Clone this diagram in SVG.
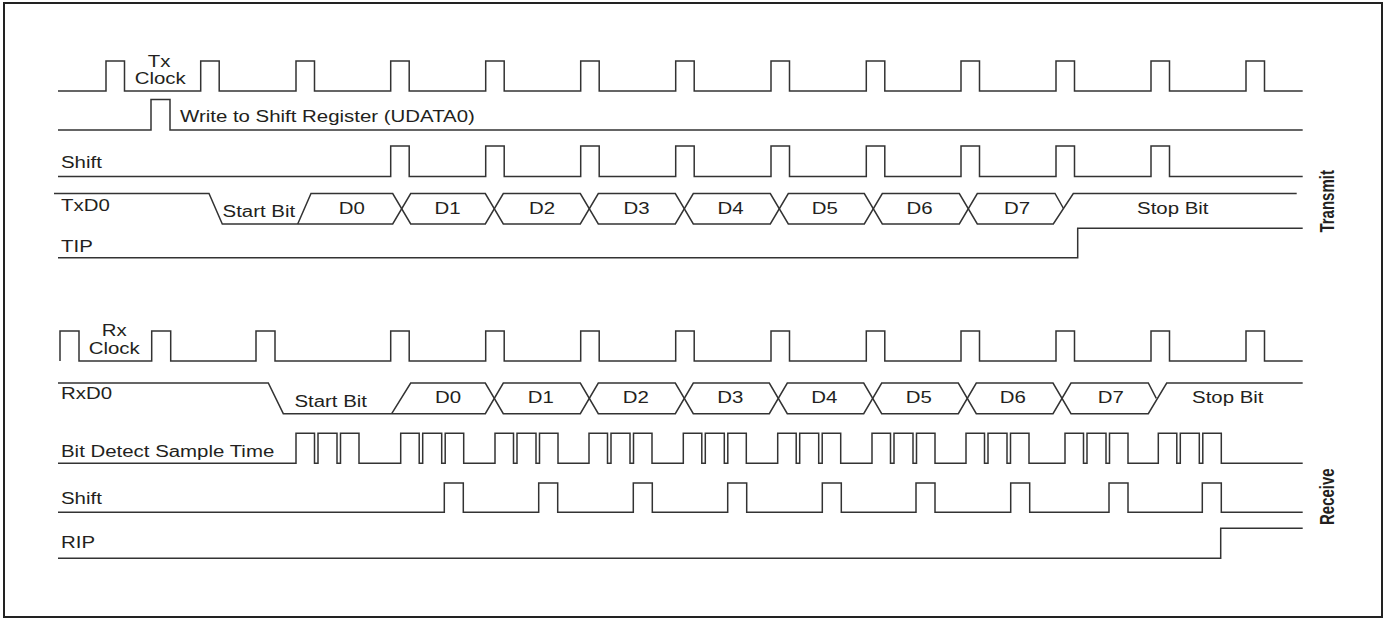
<svg xmlns="http://www.w3.org/2000/svg" width="1384" height="618" viewBox="0 0 1384 618">
<style>
.w{fill:none;stroke:#333;stroke-width:1.5;stroke-linejoin:miter}
.t{font-family:"Liberation Sans",Arial,sans-serif;font-size:15.6px;fill:#231f20}
.m{text-anchor:middle}
.b{font-family:"Liberation Sans",Arial,sans-serif;font-size:15px;font-weight:bold;fill:#231f20;text-anchor:middle}
</style>
<rect x="4" y="3" width="1378" height="614" fill="#fff" stroke="#222" stroke-width="2"/>
<g id="connectors">
<g id="tx-clock">
<path class="w" d="M58 91 H106 V61 H124.5 V91 H200.7 V61 H219.2 V91 H296 V61 H314.5 V91 H390.7 V61 H409.2 V91 H485.7 V61 H504.2 V91 H580.7 V61 H599.2 V91 H675.7 V61 H694.2 V91 H771 V61 H789.5 V91 H866.3 V61 H884.8 V91 H961 V61 H979.5 V91 H1056 V61 H1074.5 V91 H1151 V61 H1169.5 V91 H1246 V61 H1264.5 V91 H1302.7"/>
</g>
<g id="write">
<path class="w" d="M58 130 H151 V99.5 H170 V130 H1302.7"/>
</g>
<g id="tx-shift">
<path class="w" d="M58 176.5 H390.7 V146 H409.2 V176.5 H485.7 V146 H504.2 V176.5 H580.7 V146 H599.2 V176.5 H675.7 V146 H694.2 V176.5 H771 V146 H789.5 V176.5 H866.3 V146 H884.8 V176.5 H961 V146 H979.5 V176.5 H1056 V146 H1074.5 V176.5 H1151 V146 H1169.5 V176.5 H1302.7"/>
</g>
<g id="txd0">
<path class="w" d="M54 193.5 H209 L222.3 224 H392.7 L410.7 193.5 H485.3 L503.3 224 H580.3 L598.3 193.5 H675.3 L693.3 224 H770.3 L788.3 193.5 H864.3 L882.3 224 H959.3 L977.3 193.5 H1055 L1063.5 208.5"/>
<path class="w" d="M297.7 224 L311 193.5 H392.7 L410.7 224 H485.3 L503.3 193.5 H580.3 L598.3 224 H675.3 L693.3 193.5 H770.3 L788.3 224 H864.3 L882.3 193.5 H959.3 L977.3 224 H1053.3 L1073.3 193.5 H1296.7"/>
</g>
<g id="tip">
<path class="w" d="M58 257.7 H1077.7 V228.3 H1302.7"/>
</g>
<g id="rx-clock">
<path class="w" d="M60 361 V331 H79 V361 H151.7 V331 H170.7 V361 H256 V331 H275 V361 H390.7 V331 H409.2 V361 H485.7 V331 H504.2 V361 H580.7 V331 H599.2 V361 H675.7 V331 H694.2 V361 H771 V331 H789.5 V361 H866.3 V331 H884.8 V361 H961 V331 H979.5 V361 H1056 V331 H1074.5 V361 H1151 V331 H1169.5 V361 H1246 V331 H1264.5 V361 H1302.7"/>
</g>
<g id="rxd0">
<path class="w" d="M58 383 H268.3 L283.3 413.7 H485.3 L503.3 383 H580.3 L598.3 413.7 H675.3 L693.3 383 H769.3 L787.3 413.7 H863.7 L881.7 383 H958.3 L976.3 413.7 H1053 L1071 383 H1148.3 L1156.3 398.3"/>
<path class="w" d="M391.7 413.7 L410.7 383 H485.3 L503.3 413.7 H580.3 L598.3 383 H675.3 L693.3 413.7 H769.3 L787.3 383 H863.7 L881.7 413.7 H958.3 L976.3 383 H1053 L1071 413.7 H1148.3 L1166.7 383 H1302.7"/>
</g>
<g id="bit-detect">
<path class="w" d="M58 463.3 H296 V433.3 H314.5 V463.3 H318 V433.3 H337 V463.3 H340.5 V433.3 H359 V463.3 H400.7 V433.3 H419.2 V463.3 H422.7 V433.3 H441.7 V463.3 H445.2 V433.3 H463.7 V463.3 H495 V433.3 H513.5 V463.3 H517 V433.3 H536 V463.3 H539.5 V433.3 H558 V463.3 H589 V433.3 H607.5 V463.3 H611 V433.3 H630 V463.3 H633.5 V433.3 H652 V463.3 H683.3 V433.3 H701.8 V463.3 H705.3 V433.3 H724.3 V463.3 H727.8 V433.3 H746.3 V463.3 H777.7 V433.3 H796.2 V463.3 H799.7 V433.3 H818.7 V463.3 H822.2 V433.3 H840.7 V463.3 H872 V433.3 H890.5 V463.3 H894 V433.3 H913 V463.3 H916.5 V433.3 H935 V463.3 H966 V433.3 H984.5 V463.3 H988 V433.3 H1007 V463.3 H1010.5 V433.3 H1029 V463.3 H1065 V433.3 H1083.5 V463.3 H1087 V433.3 H1106 V463.3 H1109.5 V433.3 H1128 V463.3 H1158.3 V433.3 H1176.8 V463.3 H1180.3 V433.3 H1199.3 V463.3 H1202.8 V433.3 H1221.3 V463.3 H1302.7"/>
</g>
<g id="rx-shift">
<path class="w" d="M58 512.3 H444.3 V483 H463.3 V512.3 H538.7 V483 H557.7 V512.3 H633.3 V483 H652.3 V512.3 H727.7 V483 H746.7 V512.3 H822.3 V483 H841.3 V512.3 H916 V483 H935 V512.3 H1010.7 V483 H1029.7 V512.3 H1109 V483 H1128 V512.3 H1202.3 V483 H1221.3 V512.3 H1302.7"/>
</g>
<g id="rip">
<path class="w" d="M58 558.3 H1220.7 V528.3 H1302.7"/>
</g>
</g>
<g id="labels-tx">
<text class="t m" transform="translate(159.2 66.5) scale(1.31 1)">Tx</text>
<text class="t m" transform="translate(160.2 84.3) scale(1.31 1)">Clock</text>
<text class="t" transform="translate(180 121.7) scale(1.31 1)">Write to Shift Register (UDATA0)</text>
<text class="t" transform="translate(61 168.3) scale(1.31 1)">Shift</text>
<text class="t" transform="translate(61 210.5) scale(1.31 1)">TxD0</text>
<text class="t" transform="translate(61 251.7) scale(1.31 1)">TIP</text>
<text class="t m" transform="translate(258.8 217.3) scale(1.31 1)">Start Bit</text>
<text class="t m" transform="translate(351.7 214.3) scale(1.31 1)">D0</text>
<text class="t m" transform="translate(447.5 214.3) scale(1.31 1)">D1</text>
<text class="t m" transform="translate(542 214.3) scale(1.31 1)">D2</text>
<text class="t m" transform="translate(636.5 214.3) scale(1.31 1)">D3</text>
<text class="t m" transform="translate(730.5 214.3) scale(1.31 1)">D4</text>
<text class="t m" transform="translate(824.8 214.3) scale(1.31 1)">D5</text>
<text class="t m" transform="translate(919.5 214.3) scale(1.31 1)">D6</text>
<text class="t m" transform="translate(1017 214.3) scale(1.31 1)">D7</text>
<text class="t m" transform="translate(1172.8 214.3) scale(1.31 1)">Stop Bit</text>
<text class="b" transform="translate(1334 201.3) scale(1.31 1) rotate(-90)">Transmit</text>
</g>
<g id="labels-rx">
<text class="t m" transform="translate(114.2 336) scale(1.31 1)">Rx</text>
<text class="t m" transform="translate(114.2 354) scale(1.31 1)">Clock</text>
<text class="t" transform="translate(61 399.3) scale(1.31 1)">RxD0</text>
<text class="t m" transform="translate(330.7 406.7) scale(1.31 1)">Start Bit</text>
<text class="t m" transform="translate(448 403.3) scale(1.31 1)">D0</text>
<text class="t m" transform="translate(540.7 403.3) scale(1.31 1)">D1</text>
<text class="t m" transform="translate(635.8 403.3) scale(1.31 1)">D2</text>
<text class="t m" transform="translate(730.2 403.3) scale(1.31 1)">D3</text>
<text class="t m" transform="translate(824.2 403.3) scale(1.31 1)">D4</text>
<text class="t m" transform="translate(918.8 403.3) scale(1.31 1)">D5</text>
<text class="t m" transform="translate(1012.8 403.3) scale(1.31 1)">D6</text>
<text class="t m" transform="translate(1110.8 403.3) scale(1.31 1)">D7</text>
<text class="t m" transform="translate(1227.8 403.3) scale(1.31 1)">Stop Bit</text>
<text class="t" transform="translate(61 456.7) scale(1.31 1)">Bit Detect Sample Time</text>
<text class="t" transform="translate(61 504) scale(1.31 1)">Shift</text>
<text class="t" transform="translate(61 548.3) scale(1.31 1)">RIP</text>
<text class="b" transform="translate(1334 496.7) scale(1.31 1) rotate(-90)">Receive</text>
</g>
</svg>
